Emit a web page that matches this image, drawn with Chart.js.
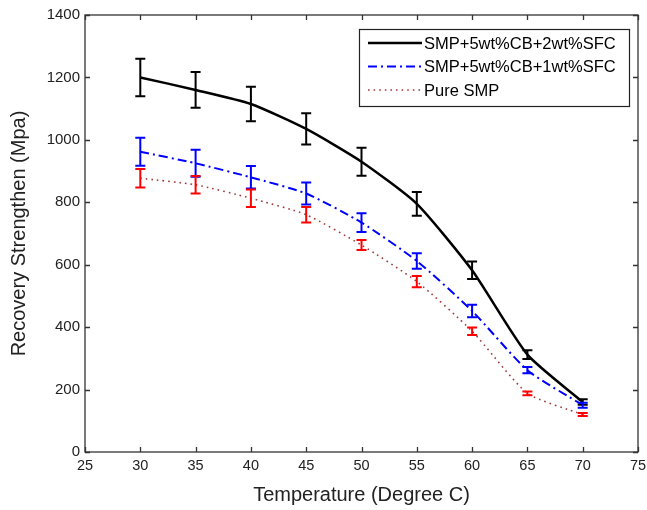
<!DOCTYPE html>
<html>
<head>
<meta charset="utf-8">
<script src="https://cdn.jsdelivr.net/npm/chart.js@4.4.0/dist/chart.umd.min.js"></script>
<style>
  html, body { margin: 0; padding: 0; background: #fff; }
  #wrap { width: 647px; height: 510px; }
</style>
</head>
<body>
<div id="wrap"><canvas id="chart" width="647" height="510"></canvas></div>
<script>
// Temperaturas (Degree C)
const temperatures = [30, 35, 40, 45, 50, 55, 60, 65, 70];

// SMP+5wt%CB+2wt%SFC
const cb2sfc = [1200, 1160, 1115, 1035, 930, 795, 582, 312, 160];
const cb2sfcErr = [60, 57, 55, 50, 45, 38, 28, 14, 9];

// SMP+5wt%CB+1wt%SFC
const cb1sfc = [962, 925, 880, 828, 735, 612, 452, 262, 150];
const cb1sfcErr = [45, 43, 36, 35, 30, 25, 20, 10, 8];

// Pure SMP
const pureSmp = [877, 856, 813, 760, 663, 546, 387, 188, 120];
const pureSmpErr = [30, 28, 28, 25, 16, 18, 12, 6, 5];

const xTicks = [25, 30, 35, 40, 45, 50, 55, 60, 65, 70, 75];
const yTicks = [0, 200, 400, 600, 800, 1000, 1200, 1400];

const FONT = '"Liberation Sans", Arial, sans-serif';

function toPoints(values) {
    return temperatures.map((t, i) => ({ x: t, y: values[i] }));
}

const series = [
    { label: 'SMP+5wt%CB+2wt%SFC', data: cb2sfc, err: cb2sfcErr, color: '#000000', errColor: '#000000', width: 2.5, dash: [] },
    { label: 'SMP+5wt%CB+1wt%SFC', data: cb1sfc, err: cb1sfcErr, color: '#0000ff', errColor: '#0000ff', width: 2, dash: [9, 4, 2, 4] },
    { label: 'Pure SMP', data: pureSmp, err: pureSmpErr, color: '#a03a3a', errColor: '#ff0000', width: 1.6, dash: [1.6, 4] }
];

// Plugin: barras de erro, moldura, ticks internos e legenda
const matlabPlugin = {
    id: 'matlabLook',
    afterDatasetsDraw(chart) {
        const ctx = chart.ctx;
        const xs = chart.scales.x, ys = chart.scales.y;
        ctx.save();
        chart.data.datasets.forEach((ds, di) => {
            const s = series[di];
            ctx.strokeStyle = s.errColor;
            ctx.lineWidth = 2;
            ctx.setLineDash([]);
            ds.data.forEach((p, i) => {
                const px = xs.getPixelForValue(p.x);
                const top = ys.getPixelForValue(p.y + s.err[i]);
                const bot = ys.getPixelForValue(p.y - s.err[i]);
                ctx.beginPath();
                ctx.moveTo(px, top); ctx.lineTo(px, bot);
                ctx.moveTo(px - 5, top); ctx.lineTo(px + 5, top);
                ctx.moveTo(px - 5, bot); ctx.lineTo(px + 5, bot);
                ctx.stroke();
            });
        });
        ctx.restore();
    },
    afterDraw(chart) {
        const ctx = chart.ctx;
        const a = chart.chartArea;
        const xs = chart.scales.x, ys = chart.scales.y;
        ctx.save();
        ctx.strokeStyle = '#333';
        ctx.lineWidth = 1.3;
        ctx.setLineDash([]);
        ctx.strokeRect(a.left, a.top, a.right - a.left, a.bottom - a.top);
        ctx.beginPath();
        xTicks.forEach(v => {
            const px = Math.round(xs.getPixelForValue(v)) + 0.5;
            ctx.moveTo(px, a.bottom); ctx.lineTo(px, a.bottom - 5);
            ctx.moveTo(px, a.top); ctx.lineTo(px, a.top + 5);
        });
        yTicks.forEach(v => {
            const py = Math.round(ys.getPixelForValue(v)) + 0.5;
            ctx.moveTo(a.left, py); ctx.lineTo(a.left + 5, py);
            ctx.moveTo(a.right, py); ctx.lineTo(a.right - 5, py);
        });
        ctx.stroke();

        // legenda
        const lx = 359, ly = 29, lw = 270, lh = 77;
        ctx.fillStyle = '#fff';
        ctx.fillRect(lx, ly, lw, lh);
        ctx.strokeStyle = '#222';
        ctx.lineWidth = 1.2;
        ctx.strokeRect(lx + 0.5, ly + 0.5, lw, lh);
        ctx.font = '16.5px ' + FONT;
        ctx.textBaseline = 'middle';
        series.forEach((s, i) => {
            const y = ly + 14 + i * 23.5;
            ctx.strokeStyle = s.color;
            ctx.lineWidth = s.width;
            ctx.setLineDash(s.dash);
            ctx.beginPath();
            ctx.moveTo(lx + 9, y); ctx.lineTo(lx + 63, y);
            ctx.stroke();
            ctx.fillStyle = '#000';
            ctx.fillText(s.label, lx + 65, y + 1);
        });
        ctx.restore();
    }
};

const ctx = document.getElementById('chart').getContext('2d');
new Chart(ctx, {
    type: 'line',
    data: {
        datasets: series.map(s => ({
            label: s.label,
            data: toPoints(s.data),
            borderColor: s.color,
            borderWidth: s.width,
            borderDash: s.dash,
            pointRadius: 0,
            fill: false,
            tension: 0.2
        }))
    },
    options: {
        responsive: false,
        animation: false,
        layout: { padding: { top: 15, right: 0, left: 0, bottom: 0 } },
        plugins: {
            legend: { display: false },
            tooltip: { enabled: false }
        },
        scales: {
            x: {
                type: 'linear',
                min: 25,
                max: 75,
                afterFit(scale) { scale.height = 58; scale.paddingRight = 9; },
                afterBuildTicks(scale) { scale.ticks = xTicks.map(v => ({ value: v })); },
                grid: { display: false, drawTicks: false },
                border: { display: false },
                ticks: { color: '#222', padding: 5, font: { family: FONT, size: 14.5 }, callback: v => String(v) },
                title: { display: true, text: 'Temperature (Degree C)', color: '#222', padding: { top: 0, bottom: 3 }, font: { family: FONT, size: 20 } }
            },
            y: {
                min: 0,
                max: 1400,
                afterFit(scale) { scale.width = 85; },
                afterBuildTicks(scale) { scale.ticks = yTicks.map(v => ({ value: v })); },
                grid: { display: false, drawTicks: false },
                border: { display: false },
                ticks: { color: '#222', padding: 5, font: { family: FONT, size: 15 }, callback: v => String(v) },
                title: { display: true, text: 'Recovery Strengthen (Mpa)', color: '#222', padding: { top: 7, bottom: 0 }, font: { family: FONT, size: 20 } }
            }
        }
    },
    plugins: [matlabPlugin]
});
</script>
</body>
</html>
